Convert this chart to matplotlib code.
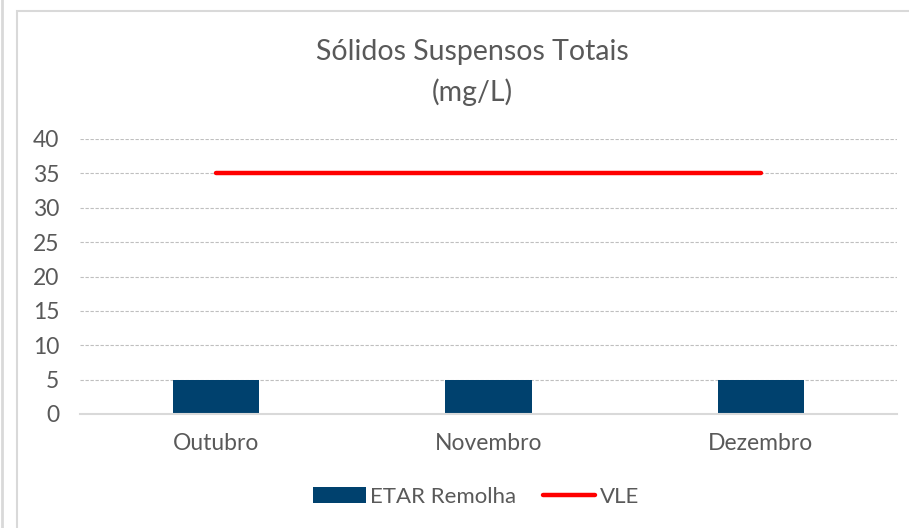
import matplotlib
matplotlib.use("Agg")
import matplotlib.pyplot as plt
from matplotlib.patches import Rectangle
from matplotlib.lines import Line2D

categories = ["Outubro", "Novembro", "Dezembro"]
etar_values = [5, 5, 5]
vle_values = [35, 35, 35]
yticks = [0, 5, 10, 15, 20, 25, 30, 35, 40]

plt.rcParams['font.family'] = ['Lato', 'DejaVu Sans']
W, H = 909, 528
fig = plt.figure(figsize=(W/100, H/100), dpi=100)

# chart frame
fig.patches.append(Rectangle((17/W, -0.1), 1.0, (H-11)/H + 0.1, transform=fig.transFigure,
                             fill=False, edgecolor='#d9d9d9', linewidth=1.5))
fig.lines.append(Line2D([1.5/W, 1.5/W], [0, 1], transform=fig.transFigure, color='#d9d9d9', linewidth=2))

ax = fig.add_axes([80/W, 1-414/H, (897-80)/W, (414-139)/H])
x = list(range(len(categories)))
bars = ax.bar(x, etar_values, width=0.316, color='#00416e', label='ETAR Remolha', zorder=2)
line, = ax.plot(x, vle_values, color='#ff0000', linewidth=3.2, solid_capstyle='round', label='VLE', zorder=3)
ax.set_xlim(-0.5, 2.5)
ax.set_ylim(0, 40)
ax.set_yticks(yticks)
ax.set_xticks(x)
ax.set_xticklabels(categories)
ax.yaxis.grid(True, color='#bfbfbf', linestyle=(0, (3, 1.5)), linewidth=0.8)
ax.set_axisbelow(True)
for s in ['top', 'right', 'left']:
    ax.spines[s].set_visible(False)
ax.spines['bottom'].set_color('#d9d9d9')
ax.spines['bottom'].set_linewidth(1.5)
ax.tick_params(axis='both', length=0, colors='#595959', labelsize=16.5)
ax.tick_params(axis='y', pad=15)
ax.tick_params(axis='x', pad=14)

fig.text(472/W, 1-52/H, "Sólidos Suspensos Totais", ha='center', va='center', fontsize=20.5, color='#595959')
fig.text(472/W, 1-92/H, "(mg/L)", ha='center', va='center', fontsize=20.5, color='#595959')

leg = fig.legend([bars, line], ['ETAR Remolha', 'VLE'], loc='center', bbox_to_anchor=(476/W, 1-497/H),
                 ncol=2, frameon=False, fontsize=16, labelcolor='#595959', handlelength=2.35,
                 columnspacing=1.2, handletextpad=0.2)
fig.savefig("out.png", dpi=100)
